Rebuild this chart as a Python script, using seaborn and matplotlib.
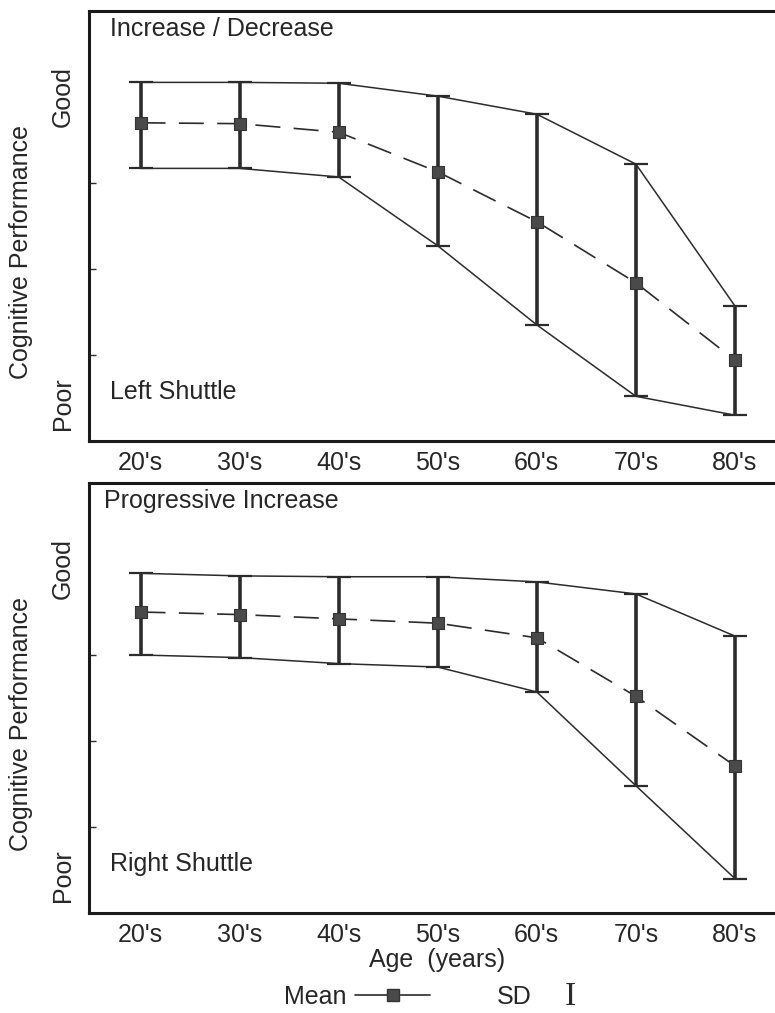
import numpy as np
import pandas as pd
import matplotlib
matplotlib.use("Agg")
import matplotlib.pyplot as plt
from matplotlib.lines import Line2D
import seaborn as sns

ages = ["20's", "30's", "40's", "50's", "60's", "70's", "80's"]

left_mean  = [3.70, 3.69, 3.59, 3.13, 2.55, 1.84, 0.94]
left_upper = [4.17, 4.17, 4.16, 4.01, 3.80, 3.22, 1.57]
left_lower = [3.17, 3.17, 3.07, 2.27, 1.35, 0.52, 0.30]

right_mean  = [3.50, 3.47, 3.42, 3.37, 3.20, 2.52, 1.71]
right_upper = [3.95, 3.92, 3.91, 3.91, 3.85, 3.71, 3.22]
right_lower = [3.00, 2.97, 2.90, 2.86, 2.57, 1.48, 0.40]

panel_titles = ["Increase / Decrease", "Progressive Increase"]
shuttle_labels = ["Left Shuttle", "Right Shuttle"]

sns.set_theme(style="white")
plt.rcParams["font.family"] = ["Liberation Sans", "DejaVu Sans"]
FS = 18

fig = plt.figure(figsize=(7.75, 10.13), dpi=100)
H = 1013.0
ax1 = fig.add_axes([89 / 775, (H - 441) / H, 1 - 89 / 775 + 0.002, 430 / H])
ax2 = fig.add_axes([89 / 775, (H - 913) / H, 1 - 89 / 775 + 0.002, 430 / H])

dark = "#2b2b2b"
panels = [
    (ax1, left_mean, left_upper, left_lower, panel_titles[0], shuttle_labels[0], 0.03),
    (ax2, right_mean, right_upper, right_lower, panel_titles[1], shuttle_labels[1], 0.022),
]

for ax, mean, upper, lower, title, shuttle, tx in panels:
    df = pd.DataFrame({"x": np.arange(len(ages)), "mean": mean,
                       "upper": upper, "lower": lower})
    sns.lineplot(data=df, x="x", y="upper", ax=ax, color=dark, lw=1.1)
    sns.lineplot(data=df, x="x", y="lower", ax=ax, color=dark, lw=1.1)
    ax.errorbar(df["x"], df["mean"],
                yerr=[df["mean"] - df["lower"], df["upper"] - df["mean"]],
                fmt="none", ecolor=dark, elinewidth=2.6, capsize=8.5,
                capthick=1.6, zorder=3)
    sns.lineplot(data=df, x="x", y="mean", ax=ax, color=dark, lw=1.2,
                 dashes=False, zorder=4)
    ax.lines[-1].set_dashes((15, 8))
    sns.scatterplot(data=df, x="x", y="mean", ax=ax, marker="s", s=80,
                    color="#4a4a4a", edgecolor="#333333", linewidth=0.8,
                    zorder=5)

    ax.set_xlim(-0.52, 6.42)
    ax.set_ylim(0, 5)
    ax.set_xticks(range(len(ages)))
    ax.set_xticklabels(ages, fontsize=FS)
    ax.tick_params(axis="x", length=0, pad=7)
    ax.set_yticks([0.43, 4.0])
    ax.set_yticklabels(["Poor", "Good"], rotation=90, va="center",
                       fontsize=FS)
    ax.tick_params(axis="y", which="major", length=0, pad=10)
    ax.set_yticks([1, 2, 3, 4], minor=True)
    ax.tick_params(axis="y", which="minor", direction="in", length=5,
                   width=1, left=True, color=dark)
    ax.set_xlabel("")
    ax.set_ylabel("Cognitive Performance", fontsize=FS)
    ax.yaxis.set_label_coords(-0.081, 0.44)

    for side in ["left", "top", "bottom"]:
        ax.spines[side].set_linewidth(2.2)
        ax.spines[side].set_color("#1a1a1a")
    ax.spines["right"].set_visible(False)

    ax.text(tx, 0.957, title, transform=ax.transAxes, fontsize=FS,
            ha="left", va="center")
    ax.text(0.03, 0.114, shuttle, transform=ax.transAxes, fontsize=FS,
            ha="left", va="center")

fig.text(437 / 775, 1 - 960 / H, "Age  (years)", fontsize=FS,
         ha="center", va="center")

# legend
fig.legend(handles=[Line2D([], [], color=dark, lw=1.2, marker="s",
                           markersize=8, markerfacecolor="#4a4a4a",
                           markeredgecolor="#333333")],
           labels=["Mean"], loc="center", markerfirst=False,
           bbox_to_anchor=(357 / 775, 1 - 997 / H), frameon=False,
           fontsize=FS, handlelength=3.0, handletextpad=0.35)
fig.text(514 / 775, 1 - 997 / H, "SD", fontsize=FS, ha="center",
         va="center")
fig.text(570 / 775, 1 - 997 / H, "I", fontsize=24, ha="center",
         va="center", family=["Liberation Serif"], color=dark)

fig.savefig("out.png", dpi=100)
